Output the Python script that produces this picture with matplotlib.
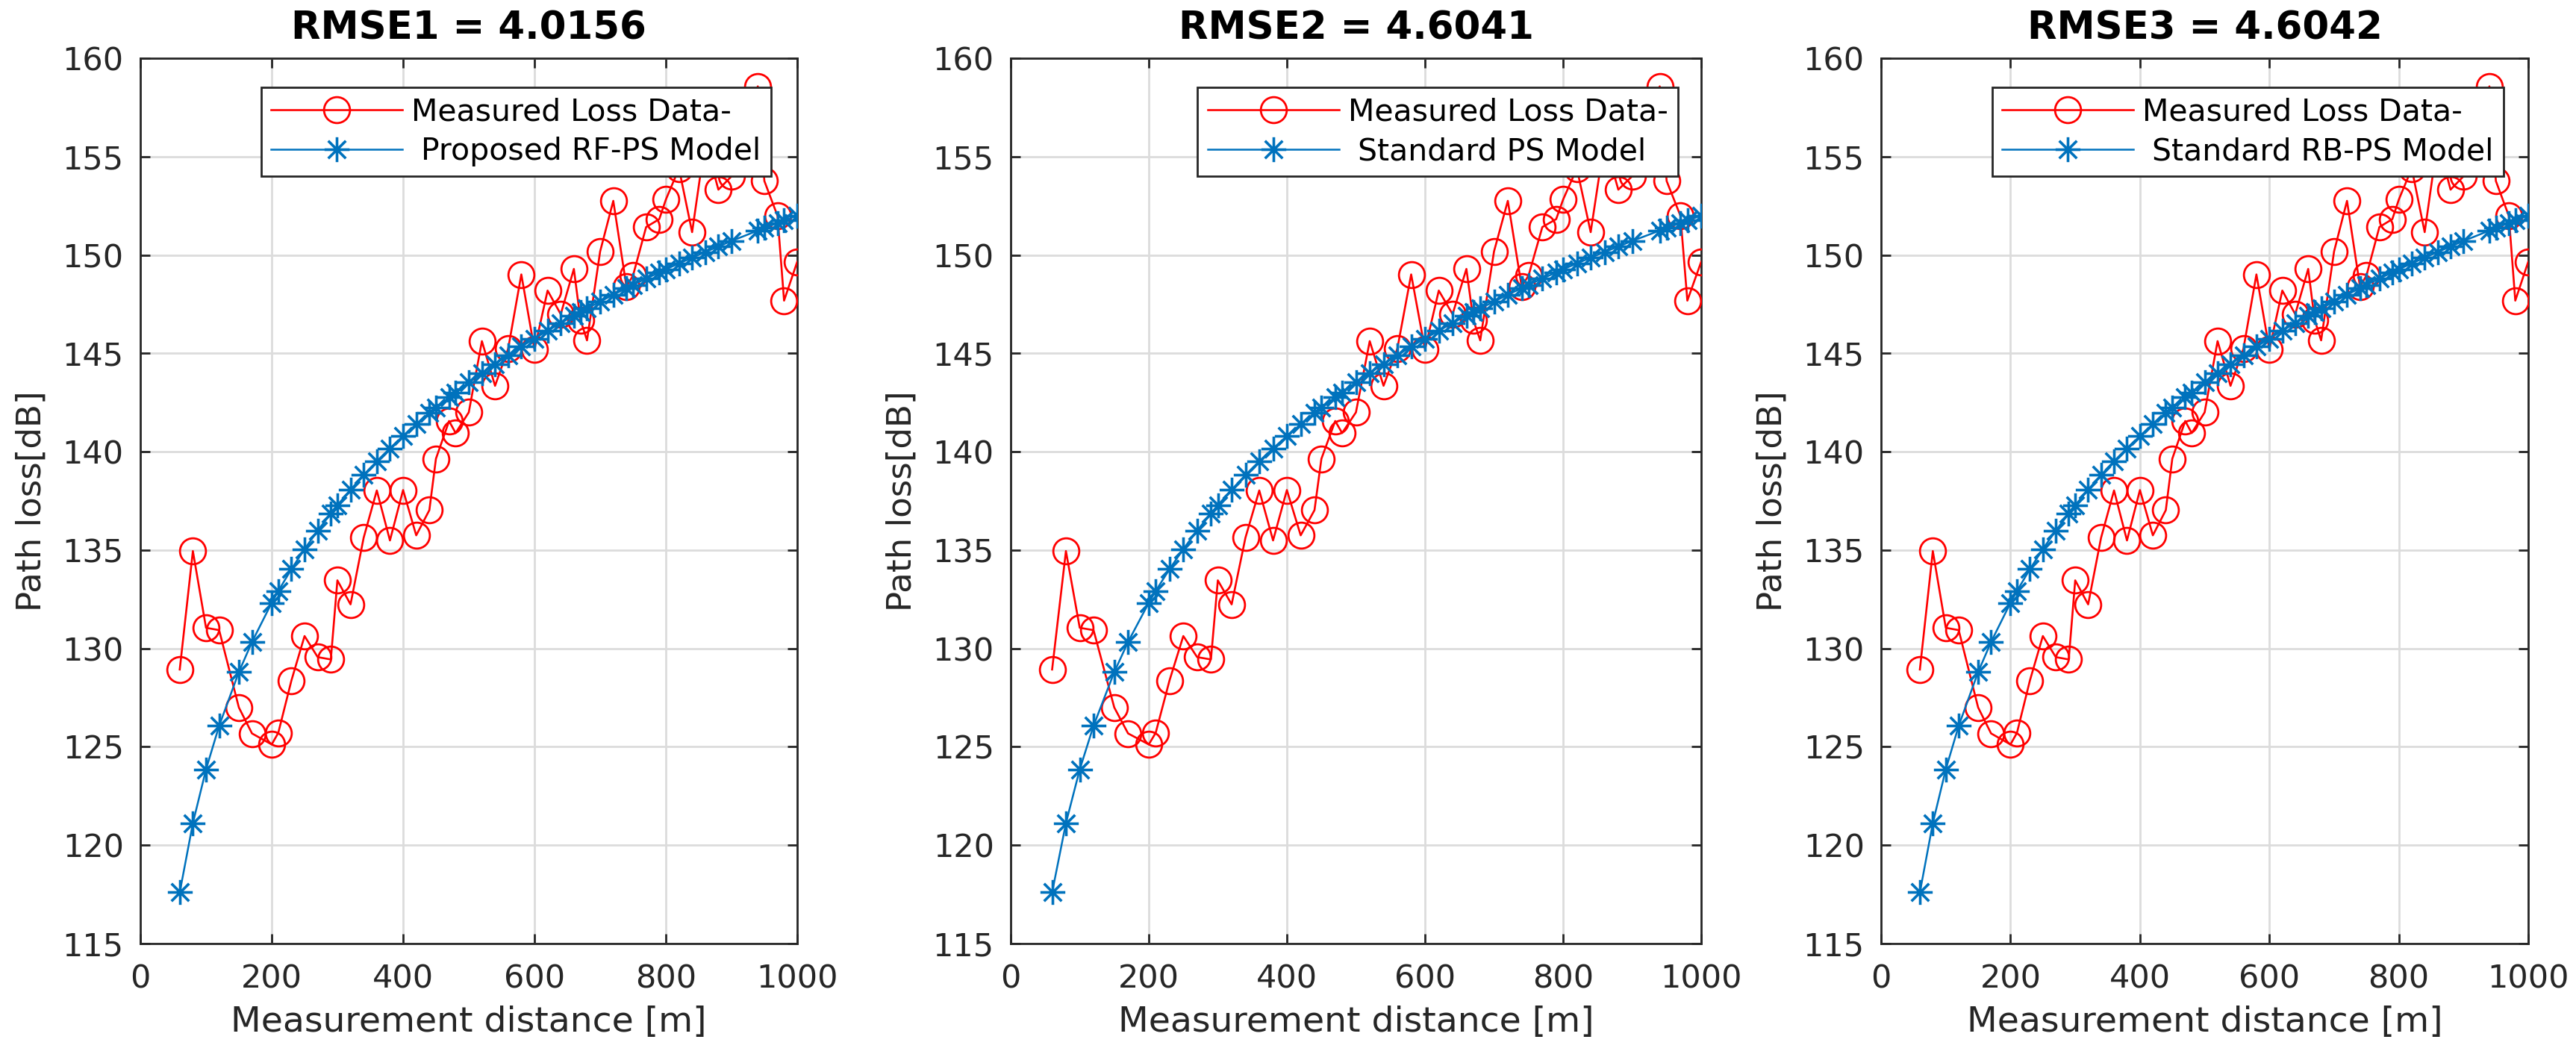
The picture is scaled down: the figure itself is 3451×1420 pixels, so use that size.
import matplotlib
matplotlib.use('Agg')
import matplotlib.pyplot as plt
from matplotlib.path import Path

# distances [m] of the measurement points
distance = [60, 80, 100, 120, 150, 170, 200, 210, 230, 250, 270, 290, 300, 320, 340,
            360, 380, 400, 420, 440, 450, 470, 480, 500, 520, 540, 560, 580, 600, 620,
            640, 660, 670, 680, 700, 720, 740, 750, 770, 790, 800, 820, 840, 860, 880,
            900, 940, 950, 970, 980, 1000]

# measured path loss [dB]
measured = [128.93, 134.95, 131.05, 130.93, 127.00, 125.68, 125.12, 125.71, 128.37, 130.63,
            129.56, 129.44, 133.46, 132.24, 135.63, 138.03, 135.49, 138.05, 135.75, 137.03,
            139.64, 141.56, 140.95, 142.00, 145.62, 143.35, 145.24, 149.01, 145.20, 148.19,
            146.99, 149.29, 146.70, 145.66, 150.18, 152.75, 148.40, 148.95, 151.42, 151.82,
            152.81, 154.40, 151.16, 155.80, 153.32, 154.00, 158.57, 153.76, 151.99, 147.68,
            149.65]

# model path loss [dB] (same curve in all three panels)
model = [117.60, 121.12, 123.85, 126.07, 128.80, 130.33, 132.32, 132.92, 134.03, 135.05,
         135.99, 136.86, 137.28, 138.07, 138.81, 139.51, 140.17, 140.79, 141.39, 141.96,
         142.23, 142.76, 143.02, 143.52, 144.00, 144.46, 144.91, 145.34, 145.75, 146.15,
         146.54, 146.92, 147.10, 147.28, 147.63, 147.98, 148.31, 148.48, 148.80, 149.11,
         149.27, 149.57, 149.86, 150.15, 150.43, 150.71, 151.24, 151.37, 151.62, 151.75,
         152.00]

titles = ['RMSE1 = 4.0156', 'RMSE2 = 4.6041', 'RMSE3 = 4.6042']
model_names = [' Proposed RF-PS Model', ' Standard PS Model', ' Standard RB-PS Model']

x_ticks = [0, 200, 400, 600, 800, 1000]
y_ticks = [115, 120, 125, 130, 135, 140, 145, 150, 155, 160]

# MATLAB style asterisk marker (+ and x combined)
d = 0.7071
ast = Path([(-1, 0), (1, 0), (0, -1), (0, 1), (-d, -d), (d, d), (-d, d), (d, -d)],
           [Path.MOVETO, Path.LINETO] * 4)

W, H = 3451, 1420
fig = plt.figure(figsize=(W / 100, H / 100), dpi=100)

# axes boxes in pixels: left, right ; top/bottom shared
boxes = [(188, 1068), (1354, 2279), (2520, 3387)]
top_px, bot_px = 78, 1264
leg_anchor = [0.960, 0.9665, 0.962]

dark = '#262626'
for i, (l, r) in enumerate(boxes):
    ax = fig.add_axes([l / W, (H - bot_px) / H, (r - l) / W, (bot_px - top_px) / H])
    ax.plot(distance, measured, '-', color='red', lw=1.9, marker='o', ms=25,
            mfc='none', mec='red', mew=2.0, label='Measured Loss Data-', zorder=3)
    ax.plot(distance, model, '-', color='#0072BD', lw=1.8, marker=ast, ms=24,
            mfc='none', mec='#0072BD', mew=2.6, label=model_names[i], zorder=3)

    ax.set_xlim(0, 1000)
    ax.set_ylim(115, 160)
    ax.set_xticks(x_ticks)
    ax.set_yticks(y_ticks)
    ax.grid(True, color='#dcdcdc', lw=2.0, zorder=0)
    ax.set_axisbelow(True)
    for s in ax.spines.values():
        s.set_linewidth(2.0)
        s.set_color(dark)
    ax.tick_params(direction='in', top=True, right=True, length=9.5, width=2.0,
                   color=dark, labelcolor=dark, labelsize=31)
    ax.tick_params(axis='y', pad=16)
    ax.tick_params(axis='x', pad=19)

    ax.set_title(titles[i], fontsize=37, fontweight='bold', pad=18.5)
    ax.set_xlabel('Measurement distance [m]', fontsize=34, color=dark, labelpad=10.5)
    ax.set_ylabel('Path loss[dB]', fontsize=32.5, color=dark, labelpad=14)

    leg = ax.legend(loc='upper right', bbox_to_anchor=(leg_anchor[i], 0.967),
                    fontsize=29.5, fancybox=False, framealpha=1, edgecolor=dark,
                    handlelength=4.3, handletextpad=0.3, borderpad=0.32,
                    labelspacing=0.32, borderaxespad=0)
    leg.get_frame().set_linewidth(2.0)
    leg.set_zorder(5)

fig.savefig('out.png', dpi=100)
